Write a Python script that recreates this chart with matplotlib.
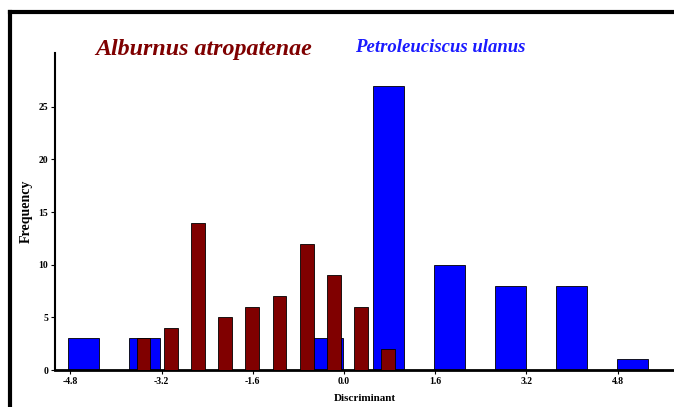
import matplotlib.pyplot as plt
from matplotlib.lines import Line2D

# === Dados ===
blue_centers = [-4.57, -3.50, -2.43, -1.36, -0.29, 0.78, 1.85, 2.92, 3.99, 5.06]
blue_counts = [3, 3, 0, 0, 3, 27, 10, 8, 8, 1]

red_centers = [-3.52, -3.04, -2.56, -2.09, -1.61, -1.13, -0.65, -0.18, 0.30, 0.77]
red_counts = [3, 4, 14, 5, 6, 7, 12, 9, 6, 2]

x_ticks = [-4.8, -3.2, -1.6, 0.0, 1.6, 3.2, 4.8]
x_labels = ["-4.8", "-3.2", "-1.6", "0.0", "1.6", "3.2", "4.8"]
y_ticks = [0, 5, 10, 15, 20, 25]

W, H = 674, 407
fig = plt.figure(figsize=(W / 100, H / 100), dpi=100)
fig.patch.set_facecolor("white")

serif = ["Liberation Serif", "DejaVu Serif"]

ax = fig.add_axes([55 / W, 37 / H, (W - 55) / W, (370 - 53) / H])
ax.bar(blue_centers, blue_counts, width=0.54, color="#0000ff",
       edgecolor="black", linewidth=0.6, zorder=2)
ax.bar(red_centers, red_counts, width=0.24, color="#800000",
       edgecolor="black", linewidth=0.6, zorder=3)

ax.set_xlim(-5.07, 5.79)
ax.set_ylim(0, 30.1)
ax.spines["top"].set_visible(False)
ax.spines["right"].set_visible(False)
ax.spines["left"].set_linewidth(1.5)
ax.spines["bottom"].set_linewidth(2)

ax.set_xticks(x_ticks)
ax.set_xticklabels(x_labels)
ax.set_yticks(y_ticks)
ax.tick_params(axis="both", length=3, width=0.8, labelsize=7, pad=2)
for lab in ax.get_xticklabels() + ax.get_yticklabels():
    lab.set_fontfamily(serif)
    lab.set_fontweight("bold")

ax.set_xlabel("Discriminant", fontsize=8, fontweight="bold", family=serif, labelpad=6)
ax.set_ylabel("Frequency", fontsize=10, fontweight="bold", family=serif, labelpad=4)

# titulos das especies
fig.text(95 / W, 1 - 50 / H, "Alburnus atropatenae", color="#7f0000",
         fontsize=17.3, fontweight="bold", fontstyle="italic", family=serif,
         va="center", ha="left")
fig.text(355 / W, 1 - 48 / H, "Petroleuciscus ulanus", color="#1a1aff",
         fontsize=13.5, fontweight="bold", fontstyle="italic", family=serif,
         va="center", ha="left")

# moldura externa (cortada a direita e embaixo)
fig.add_artist(Line2D([10 / W, 10 / W], [0, 1 - 12 / H], color="black",
                      linewidth=3, transform=fig.transFigure))
fig.add_artist(Line2D([10 / W, 1], [1 - 12 / H, 1 - 12 / H], color="black",
                      linewidth=3, transform=fig.transFigure))

fig.savefig("out.png", dpi=100)
